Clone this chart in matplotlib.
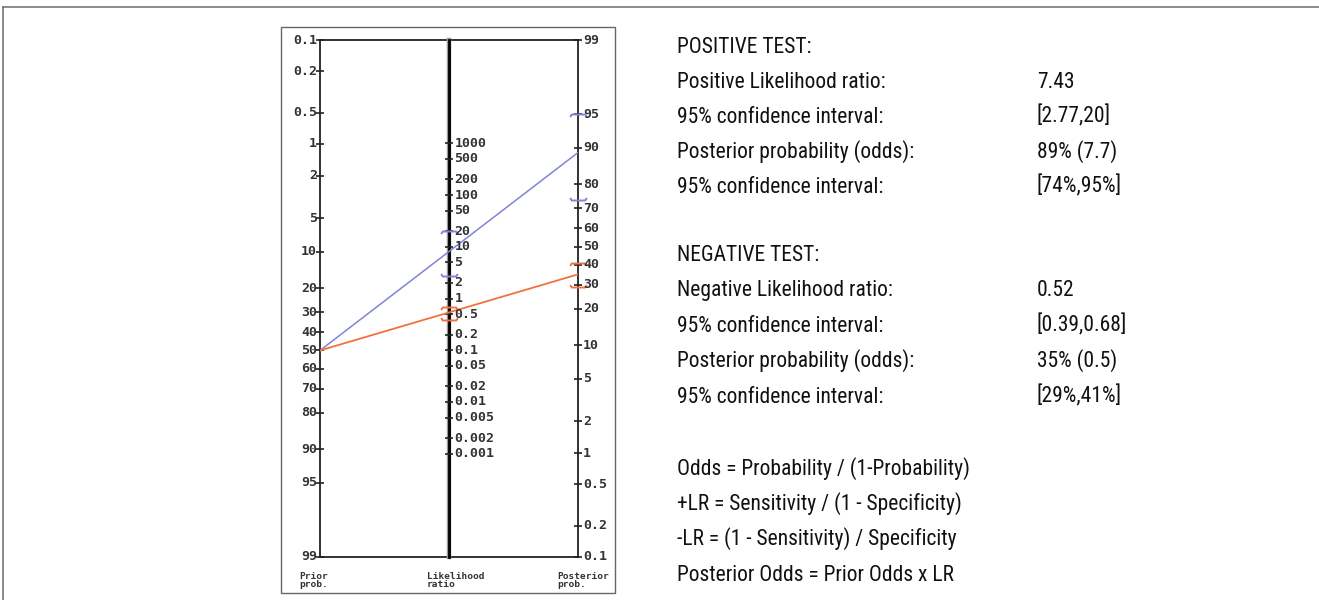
import numpy as np
import matplotlib
matplotlib.use("Agg")
import matplotlib.pyplot as plt
from matplotlib.lines import Line2D
from matplotlib.patches import Rectangle
from matplotlib.path import Path
from matplotlib import font_manager

# nomogram scales
prior_ticks = [0.1, 0.2, 0.5, 1, 2, 5, 10, 20, 30, 40, 50, 60, 70, 80, 90, 95, 99]
lr_ticks = [1000, 500, 200, 100, 50, 20, 10, 5, 2, 1, 0.5, 0.2, 0.1,
            0.05, 0.02, 0.01, 0.005, 0.002, 0.001]
post_ticks = [99, 95, 90, 80, 70, 60, 50, 40, 30, 20, 10, 5, 2, 1, 0.5, 0.2, 0.1]

# results
prior_prob = 50
pos_post = 89
pos_lr_ci = [2.77, 20]
pos_post_ci = [74, 95]
neg_post = 35
neg_lr_ci = [0.39, 0.68]
neg_post_ci = [29, 41]

pos_rows = [("POSITIVE TEST:", ""),
            ("Positive Likelihood ratio:", "7.43"),
            ("95% confidence interval:", "[2.77,20]"),
            ("Posterior probability (odds):", "89% (7.7)"),
            ("95% confidence interval:", "[74%,95%]")]
neg_rows = [("NEGATIVE TEST:", ""),
            ("Negative Likelihood ratio:", "0.52"),
            ("95% confidence interval:", "[0.39,0.68]"),
            ("Posterior probability (odds):", "35% (0.5)"),
            ("95% confidence interval:", "[29%,41%]")]
formulas = ["Odds = Probability / (1-Probability)",
            "+LR = Sensitivity / (1 - Specificity)",
            "-LR = (1 - Sensitivity) / Specificity",
            "Posterior Odds = Prior Odds x LR"]


def logit(pct):
    p = np.asarray(pct, dtype=float) / 100.0
    return np.log(p / (1 - p))


top = -logit(0.1)
bottom = -logit(99)
shift = top - logit(99)


def y_left(p):
    return -logit(p)


def y_right(p):
    return logit(p) + shift


def y_mid(lr):
    return (np.log(np.asarray(lr, dtype=float)) + shift) / 2


W, H = 1319, 600
fig = plt.figure(figsize=(W / 100, H / 100), dpi=100)


def fx(px):
    return px / W


def fy(py):
    return 1 - py / H


# page frame and picture box
fig.add_artist(Line2D([fx(3), 1], [fy(7), fy(7)], color="#777777", lw=1.2))
fig.add_artist(Line2D([fx(3), fx(3)], [fy(7), 0], color="#777777", lw=1.2))
fig.add_artist(Rectangle((fx(281), fy(593)), fx(615 - 281), (593 - 27) / H,
                         fill=False, edgecolor="#666666", lw=1.0))

ax = fig.add_axes([fx(320), fy(557), fx(578 - 320), (557 - 40) / H])
ax.set_xlim(0, 2)
ax.set_ylim(bottom, top)
ax.axis("off")

ink = "#222222"
mono = dict(family="DejaVu Sans Mono", weight="bold", size=9.5, color="#333333")

# frame of the nomogram
ax.plot([0, 2], [top, top], color=ink, lw=1.3, clip_on=False)
ax.plot([0, 2], [bottom, bottom], color=ink, lw=1.3, clip_on=False)
ax.plot([0, 0], [bottom, top], color=ink, lw=1.3, clip_on=False)
ax.plot([2, 2], [bottom, top], color=ink, lw=1.3, clip_on=False)
ax.plot([1, 1], [bottom, top], color="#999999", lw=3.2, clip_on=False)
ax.plot([1, 1], [bottom, top], color="black", lw=2.0, clip_on=False)

# ticks and labels
ax.plot(np.zeros(len(prior_ticks)), y_left(prior_ticks), ls="none",
        marker="_", ms=6, mew=1.2, color=ink, clip_on=False)
for p in prior_ticks:
    ax.annotate(f"{p:g}", (0, y_left(p)), xytext=(-2, 0),
                textcoords="offset points", ha="right", va="center", **mono)

ax.plot(np.ones(len(lr_ticks)), y_mid(lr_ticks), ls="none",
        marker="_", ms=6, mew=1.2, color=ink, clip_on=False)
for lr in lr_ticks:
    ax.annotate(f"{lr:g}", (1, y_mid(lr)), xytext=(4, 0),
                textcoords="offset points", ha="left", va="center", **mono)

ax.plot(np.full(len(post_ticks), 2), y_right(post_ticks), ls="none",
        marker="_", ms=6, mew=1.2, color=ink, clip_on=False)
for p in post_ticks:
    ax.annotate(f"{p:g}", (2, y_right(p)), xytext=(3.5, 0),
                textcoords="offset points", ha="left", va="center", **mono)

small = dict(family="DejaVu Sans Mono", weight="bold", size=6.8,
             color="#333333", va="center", linespacing=0.9)
ax.annotate("Prior\nprob.", (0, 0), xycoords=("data", "axes fraction"),
            xytext=(-15, -17), textcoords="offset points", ha="left", **small)
ax.annotate("Likelihood\nratio", (1, 0), xycoords=("data", "axes fraction"),
            xytext=(-16, -17), textcoords="offset points", ha="left", **small)
ax.annotate("Posterior\nprob.", (2, 0), xycoords=("data", "axes fraction"),
            xytext=(-15, -17), textcoords="offset points", ha="left", **small)

# test lines
blue = "#7f84d6"
orange = "#f2723f"
ax.plot([0, 2], [y_left(prior_prob), y_right(pos_post)], color=blue, lw=1.1)
ax.plot([0, 2], [y_left(prior_prob), y_right(neg_post)], color=orange, lw=1.3)

# confidence interval brackets
upper = Path([(-1, -0.3), (-0.8, 0), (0.8, 0), (1, -0.3)])
lower = Path([(-1, 0.3), (-0.8, 0), (0.8, 0), (1, 0.3)])
for col, lr_ci, post_ci in [(blue, pos_lr_ci, pos_post_ci),
                            (orange, neg_lr_ci, neg_post_ci)]:
    ax.plot([1], [y_mid(lr_ci[0])], marker=lower, ms=12, mfc="none",
            mec=col, mew=1.4, clip_on=False)
    ax.plot([1], [y_mid(lr_ci[1])], marker=upper, ms=12, mfc="none",
            mec=col, mew=1.4, clip_on=False)
    ax.plot([2], [y_right(post_ci[0])], marker=lower, ms=12, mfc="none",
            mec=col, mew=1.4, clip_on=False)
    ax.plot([2], [y_right(post_ci[1])], marker=upper, ms=12, mfc="none",
            mec=col, mew=1.4, clip_on=False)

# text panel: a narrow sans face if one is installed
names = {f.name for f in font_manager.fontManager.ttflist}
narrow = [n for n in ["Liberation Sans Narrow", "Roboto Condensed"] if n in names]
if narrow == ["Roboto Condensed"]:
    txt_family, txt_size = narrow[0], 15.5
elif narrow:
    txt_family, txt_size = narrow[0], 16.5
else:
    txt_family, txt_size = "Liberation Sans", 14.5
txt = dict(family=txt_family, size=txt_size, color="#111111", va="baseline")
cap = 0.716 * txt_size / 0.72 / 2
for i, (label, value) in enumerate(pos_rows):
    yc = 45 + 35 * i
    fig.text(fx(677), fy(yc + cap), label, **txt)
    fig.text(fx(1037), fy(yc + cap), value, **txt)
for i, (label, value) in enumerate(neg_rows):
    yc = 253 + 35.5 * i
    fig.text(fx(677), fy(yc + cap), label, **txt)
    fig.text(fx(1037), fy(yc + cap), value, **txt)
for i, line in enumerate(formulas):
    yc = 467 + 35.3 * i
    fig.text(fx(677), fy(yc + cap), line, **txt)

fig.savefig("out.png", dpi=100)
